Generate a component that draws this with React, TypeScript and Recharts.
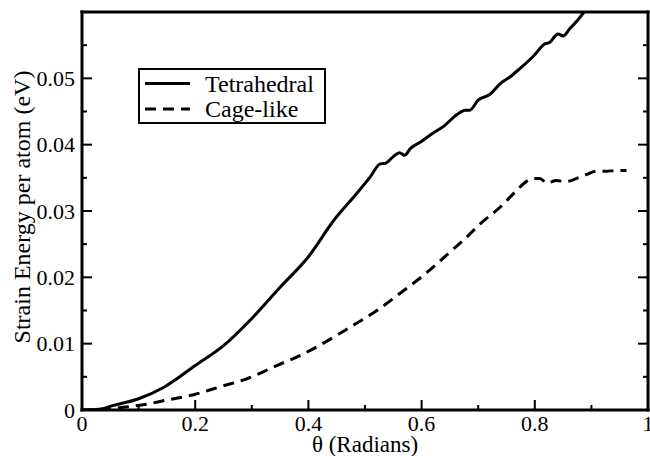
import { LineChart, Line, XAxis, YAxis, Legend } from 'recharts';

// Tetrahedral curve (theta in radians, strain energy in eV per atom)
const tetraTheta = [
  0, 0.03, 0.056, 0.1, 0.144, 0.2, 0.25, 0.3, 0.35, 0.4, 0.445, 0.483, 0.509, 0.527, 0.536,
  0.55, 0.561, 0.57, 0.58, 0.598, 0.621, 0.638, 0.662, 0.677, 0.685, 0.7, 0.721, 0.739, 0.756,
  0.774, 0.797, 0.818, 0.826, 0.841, 0.85, 0.862, 0.876, 0.888,
];
const tetraEnergy = [
  0, 0.0001, 0.0007, 0.0017, 0.0034, 0.0067, 0.0097, 0.0138, 0.0185, 0.0231, 0.0286, 0.0324,
  0.0351, 0.0371, 0.0372, 0.0382, 0.0388, 0.0384, 0.0394, 0.0404, 0.0418, 0.0427, 0.0445,
  0.0452, 0.0452, 0.0467, 0.0476, 0.0492, 0.0502, 0.0515, 0.0533, 0.0552, 0.0554, 0.0567,
  0.0564, 0.0575, 0.0588, 0.0601,
];

// Cage-like curve
const cageTheta = [
  0, 0.04, 0.073, 0.116, 0.15, 0.197, 0.244, 0.291, 0.344, 0.385, 0.429, 0.474, 0.521, 0.562,
  0.609, 0.65, 0.674, 0.704, 0.739, 0.768, 0.786, 0.797, 0.809, 0.821, 0.838, 0.853, 0.879,
  0.891, 0.909, 0.926, 0.944, 0.962,
];
const cageEnergy = [
  0, 0.0001, 0.0004, 0.0009, 0.0015, 0.0023, 0.0035, 0.0047, 0.0067, 0.0082, 0.0102, 0.0125,
  0.015, 0.0176, 0.0207, 0.0238, 0.0256, 0.0281, 0.0306, 0.0331, 0.0345, 0.0349, 0.0349,
  0.0342, 0.0346, 0.0344, 0.0351, 0.0355, 0.036, 0.036, 0.0361, 0.0361,
];

const seriesNames = ['Tetrahedral', 'Cage-like'];

const xTicks = [0, 0.1, 0.2, 0.3, 0.4, 0.5, 0.6, 0.7, 0.8, 0.9, 1];
const xLabels = [0, 0.2, 0.4, 0.6, 0.8, 1];
const yTicks = [0, 0.005, 0.01, 0.015, 0.02, 0.025, 0.03, 0.035, 0.04, 0.045, 0.05, 0.055];
const yLabels = [0, 0.01, 0.02, 0.03, 0.04, 0.05];

const tetraData = tetraTheta.map((t, i) => ({ theta: t, energy: tetraEnergy[i] }));
const cageData = cageTheta.map((t, i) => ({ theta: t, energy: cageEnergy[i] }));

const FONT = 'Liberation Serif, Times New Roman, Tinos, Noto Serif, DejaVu Serif, serif';
const MAJOR = 10;
const MINOR = 5;

// ticks point inwards, drawn as thin rects
function BottomTick(props: any) {
  const { x, y, payload } = props;
  const major = xLabels.includes(payload.value);
  const len = major ? MAJOR : MINOR;
  return (
    <g>
      <rect x={x - 1} y={y - len} width={2} height={len} fill="#000" />
      {major && (
        <text x={x} y={y + 21} textAnchor="middle" fontSize={22} fontFamily={FONT} fill="#000">
          {payload.value}
        </text>
      )}
    </g>
  );
}

function TopTick(props: any) {
  const { x, y, payload } = props;
  const len = xLabels.includes(payload.value) ? MAJOR : MINOR;
  return <rect x={x - 1} y={y} width={2} height={len} fill="#000" />;
}

function LeftTick(props: any) {
  const { x, y, payload } = props;
  const major = yLabels.includes(payload.value);
  const len = major ? MAJOR : MINOR;
  return (
    <g>
      <rect x={x} y={y - 1} width={len} height={2} fill="#000" />
      {major && (
        <text x={x - 7} y={y} dy="0.35em" textAnchor="end" fontSize={22} fontFamily={FONT} fill="#000">
          {payload.value}
        </text>
      )}
    </g>
  );
}

function RightTick(props: any) {
  const { x, y, payload } = props;
  const len = yLabels.includes(payload.value) ? MAJOR : MINOR;
  return <rect x={x - len} y={y - 1} width={len} height={2} fill="#000" />;
}

function LegendBox({ payload }: any) {
  const items = [...(payload || [])].sort(
    (a: any, b: any) => seriesNames.indexOf(a.value) - seriesNames.indexOf(b.value)
  );
  return (
    <svg width={188} height={56} style={{ display: 'block' }}>
      <rect x={1} y={1} width={186} height={54} fill="#fff" stroke="#000" strokeWidth={2} />
      {items.map((entry: any, i: number) => {
        const cy = 15.5 + i * 25.5;
        return (
          <g key={entry.value}>
            <line
              x1={7}
              x2={52}
              y1={cy}
              y2={cy}
              stroke="#000"
              strokeWidth={3}
              strokeDasharray={entry.payload?.strokeDasharray}
            />
            <text x={67} y={cy + 8} fontSize={24} fontFamily={FONT} fill="#000">
              {entry.value}
            </text>
          </g>
        );
      })}
    </svg>
  );
}

const frame = { stroke: '#000', strokeWidth: 3, strokeLinecap: 'square' as const };

export default function App() {
  return (
    <div style={{ position: 'absolute', left: 0, top: 0, background: '#fff' }}>
      <LineChart width={650} height={456} margin={{ top: 11, right: 1, bottom: 0, left: 0 }}>
        <XAxis
          dataKey="theta"
          type="number"
          domain={[0, 1]}
          allowDataOverflow
          ticks={xTicks}
          interval={0}
          height={46}
          tickSize={0}
          tickMargin={0}
          tickLine={false}
          axisLine={frame}
          tick={BottomTick}
          label={{
            content: ({ viewBox }: any) => (
              <text
                x={viewBox.x + viewBox.width / 2}
                y={viewBox.y + 42}
                textAnchor="middle"
                fontSize={23}
                fontFamily={FONT}
                fill="#000"
              >
                θ (Radians)
              </text>
            ),
          }}
        />
        <XAxis
          xAxisId="top"
          orientation="top"
          type="number"
          domain={[0, 1]}
          allowDataOverflow
          ticks={xTicks}
          interval={0}
          height={1}
          tickSize={0}
          tickMargin={0}
          tickLine={false}
          axisLine={frame}
          tick={TopTick}
        />
        <YAxis
          type="number"
          domain={[0, 0.06]}
          allowDataOverflow
          ticks={yTicks}
          interval={0}
          width={82}
          tickSize={0}
          tickMargin={0}
          tickLine={false}
          axisLine={frame}
          tick={LeftTick}
          label={{
            content: ({ viewBox }: any) => (
              <text
                transform={`translate(${viewBox.x + 30}, ${viewBox.y + viewBox.height / 2 - 4}) rotate(-90)`}
                textAnchor="middle"
                fontSize={24}
                fontFamily={FONT}
                fill="#000"
              >
                Strain Energy per atom (eV)
              </text>
            ),
          }}
        />
        <YAxis
          yAxisId="right"
          orientation="right"
          type="number"
          domain={[0, 0.06]}
          allowDataOverflow
          ticks={yTicks}
          interval={0}
          width={1}
          tickSize={0}
          tickMargin={0}
          tickLine={false}
          axisLine={frame}
          tick={RightTick}
        />
        <Legend
          layout="vertical"
          align="center"
          verticalAlign="middle"
          wrapperStyle={{ left: 138, top: 68, width: 188, height: 56 }}
          content={(p: any) => <LegendBox {...p} />}
        />
        <Line
          data={tetraData}
          dataKey="energy"
          name="Tetrahedral"
          type="monotone"
          stroke="#000"
          strokeWidth={3}
          dot={false}
          activeDot={false}
          isAnimationActive={false}
        />
        <Line
          data={cageData}
          dataKey="energy"
          name="Cage-like"
          type="monotone"
          stroke="#000"
          strokeWidth={3}
          strokeDasharray="11 7"
          dot={false}
          activeDot={false}
          isAnimationActive={false}
        />
      </LineChart>
    </div>
  );
}
